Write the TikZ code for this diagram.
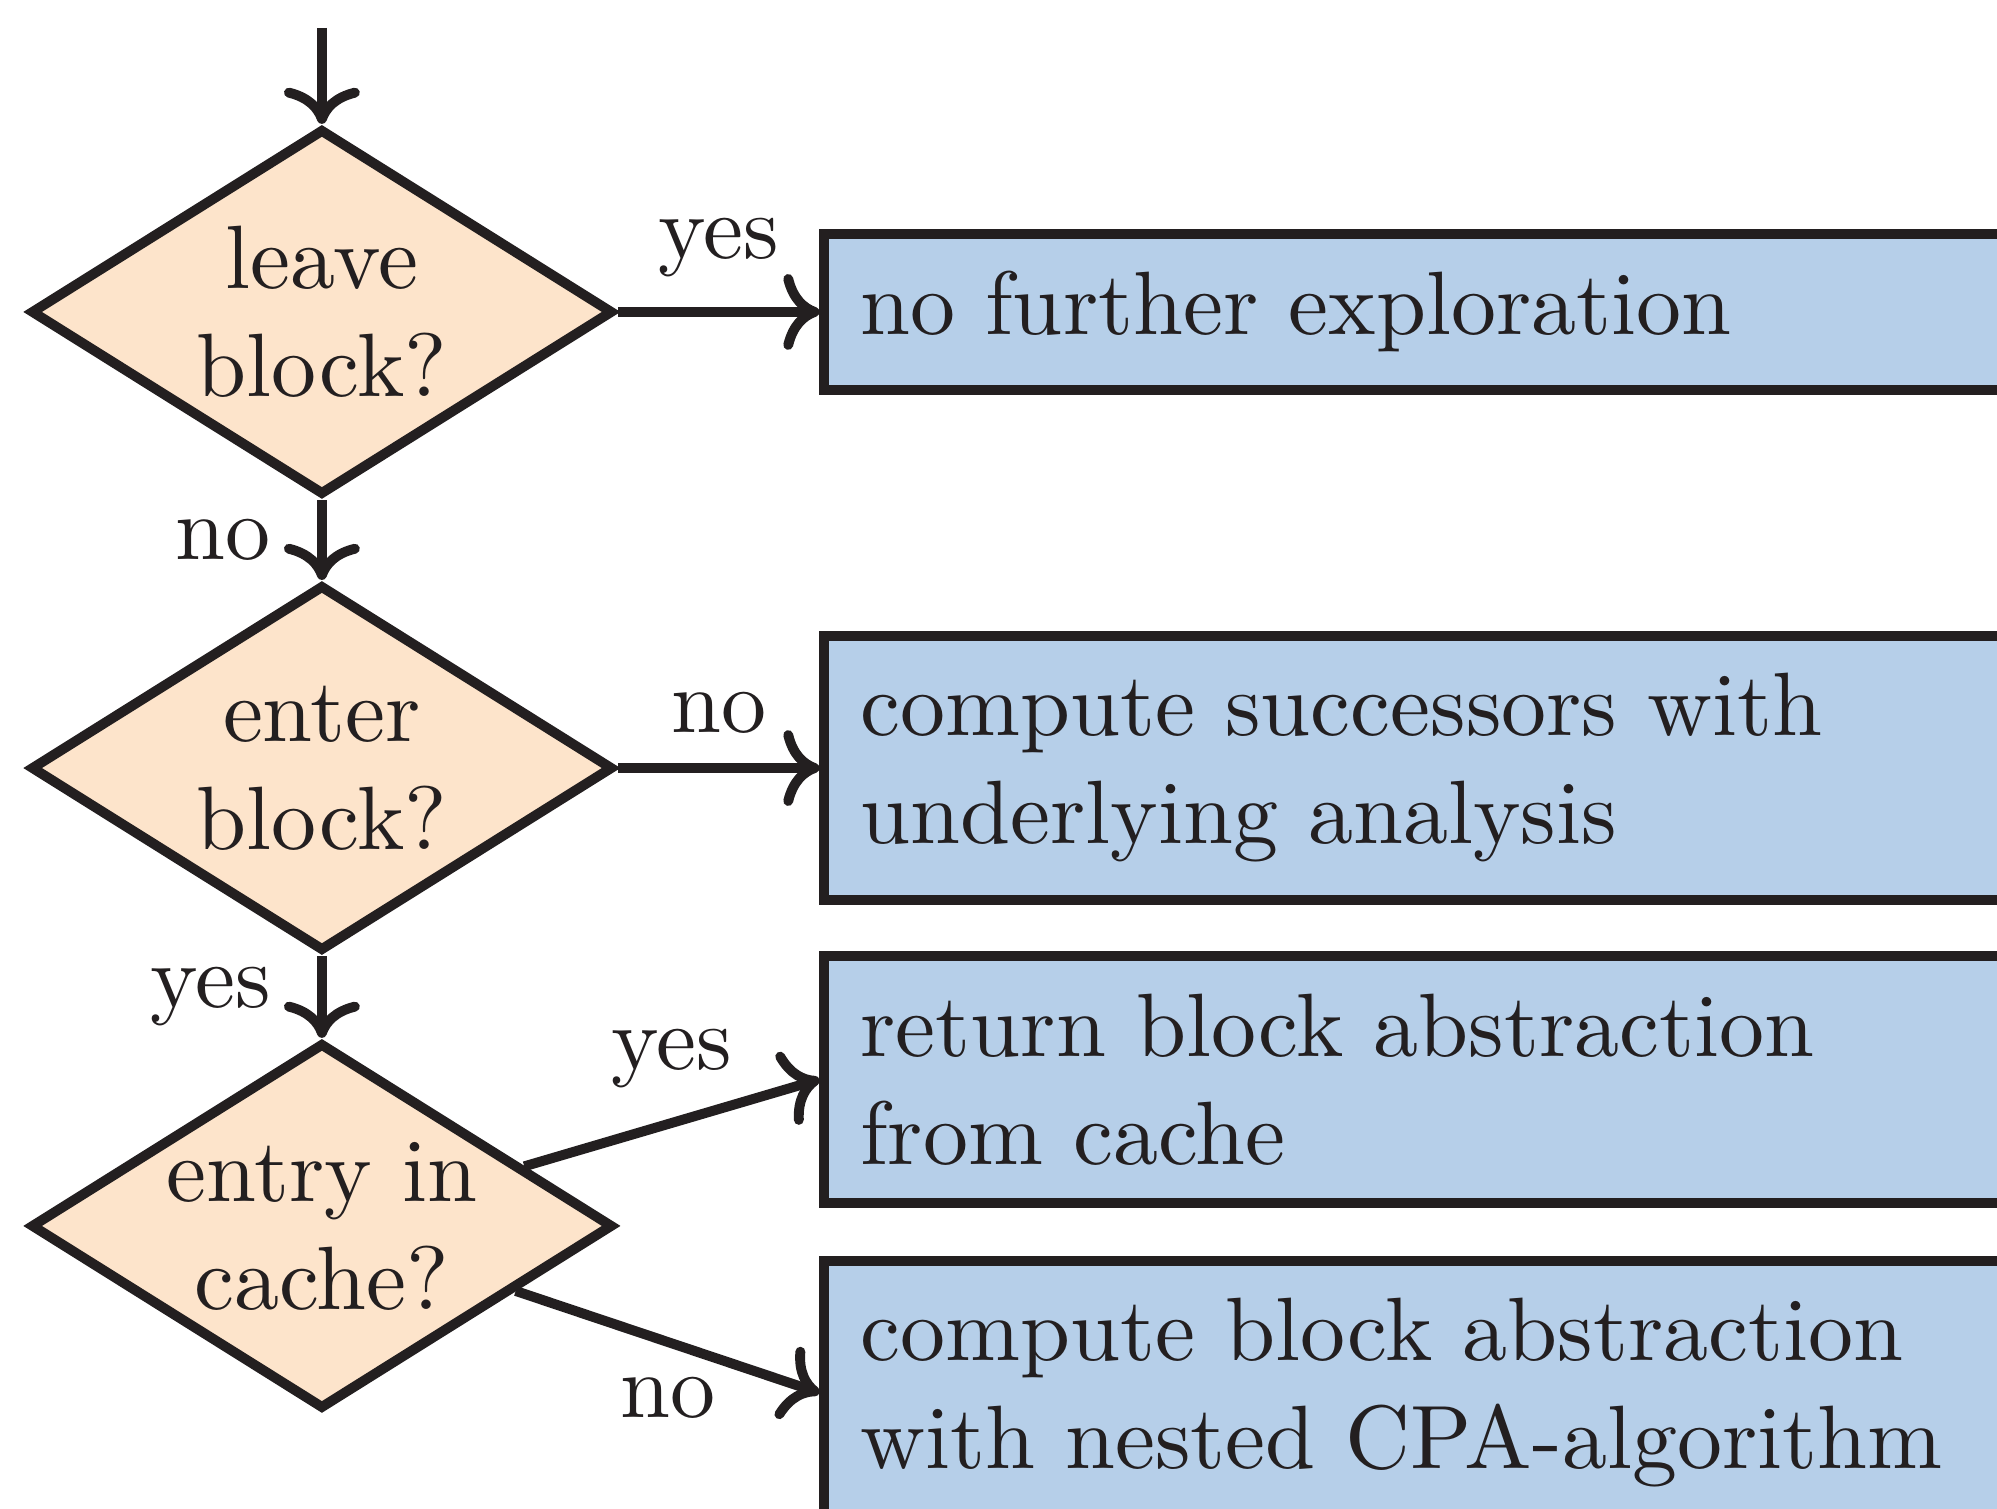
\documentclass[tikz,border=0pt]{standalone}
\usepackage{amsmath}
\usepackage{amssymb}
\usepackage{color}
\usepackage{tikz}
\usetikzlibrary{shapes.geometric,arrows.meta}

\definecolor{decfill}{RGB}{253,228,203}
\definecolor{actfill}{RGB}{182,207,233}
\definecolor{ink}{RGB}{35,31,32}

\begin{document}
\begin{tikzpicture}[line width=1.1pt, color=ink,
  decision/.style={diamond, draw, fill=decfill, inner sep=-1pt, shape aspect=1.6,
    minimum width=2.275cm, minimum height=1.43cm, align=center},
  action/.style={rectangle, draw, fill=actfill, anchor=west,
    text width=5cm, align=left, inner xsep=4pt, inner ysep=4.2pt},
  flow/.style={-{Computer Modern Rightarrow}}]
\useasboundingbox (0,0) rectangle (7.798,-5.892);
\clip (0,0) rectangle (7.798,-5.892);
% decisions
\coordinate (start) at (1.257,-0.109);
\node [decision] (leave) at (1.257,-1.218) {leave\\block?};
\node [decision] (enter) at (1.257,-2.999) {enter\\block?};
\node [decision] (cached) at (1.257,-4.787) {entry in\\cache?};
% actions
\node [action] (stop) at (3.2,-1.218) {no further exploration};
\node [action] (succ) at (3.2,-2.999) {compute successors with\\underlying analysis};
\node [action] (fromcache) at (3.2,-4.215) {return block abstraction\\from cache};
\node [action] (nested) at (3.2,-5.439) {compute block abstraction\\with nested CPA-algorithm};
% edges
\draw [flow] (start) -- (leave);
\draw [flow] (leave.east) -- node [above] {yes} (stop.west);
\draw [flow] (leave) -- node [left=1.8pt] {no} (enter);
\draw [flow] (enter.east) -- node [above] {no} (succ.west);
\draw [flow] (enter) -- node [left=1.8pt] {yes} (cached);
\draw [flow] (cached) -- node [above] {yes} (fromcache.west);
\draw [flow] (cached) -- node [below] {no} (nested.west);
\end{tikzpicture}
\end{document}
